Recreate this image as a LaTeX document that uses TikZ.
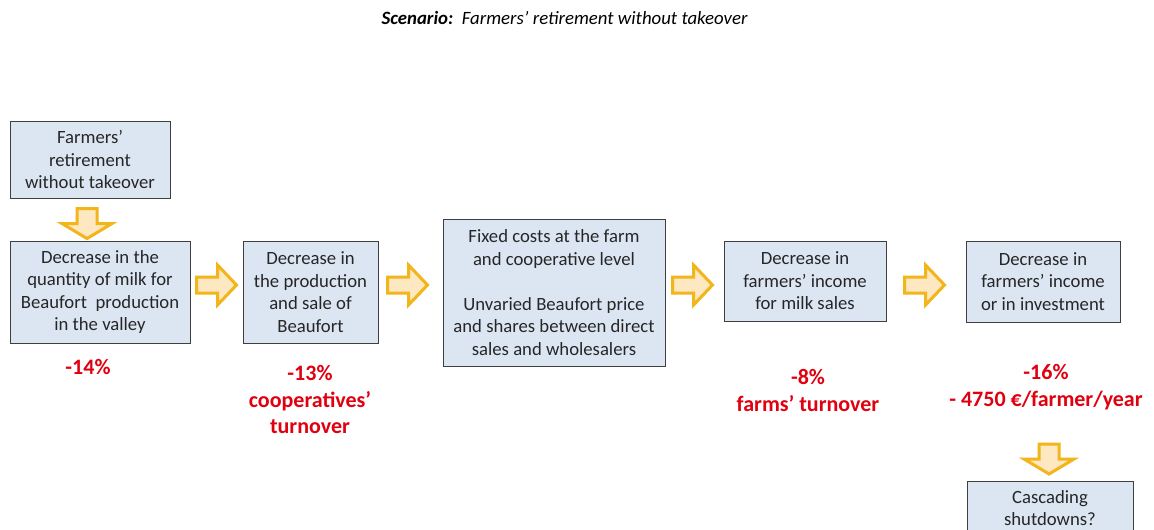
\documentclass[tikz,border=0pt]{standalone}
\usepackage{fontspec}
\setmainfont{Carlito}
\usetikzlibrary{calc}
\definecolor{boxfill}{HTML}{DCE6F2}
\definecolor{boxline}{HTML}{3F3F3F}
\definecolor{arrline}{HTML}{F2B51A}
\definecolor{arrfill}{HTML}{FDE8C2}
\definecolor{redtxt}{HTML}{E0000F}
\definecolor{boxtext}{HTML}{262626}
\begin{document}
\begin{tikzpicture}[x=1pt,y=-1pt,
  box/.style={draw=boxline,fill=boxfill,line width=1pt,align=center,inner sep=0pt,
    font=\fontsize{18.7}{22.5}\selectfont,text=boxtext},
  redlbl/.style={text=redtxt,font=\bfseries\fontsize{22}{26.5}\selectfont,align=center,inner sep=0pt},
  blockarr/.style={draw=arrline,line width=3pt,fill=arrfill,line join=miter},
  rarrow/.pic={\draw[blockarr] (-20,-8) -- (1,-8) -- (1,-20) -- (20,0) -- (1,20) -- (1,8) -- (-20,8) -- cycle;},
  darrow/.pic={\draw[blockarr] (-10,-15) -- (10,-15) -- (10,0) -- (25,0) -- (0,15) -- (-25,0) -- (-10,0) -- cycle;}
]
\useasboundingbox[fill=white] (0,0) rectangle (1154,530);

\node[font=\fontsize{18.8}{22}\selectfont\itshape,text=black] (title) at (564.5,18)
  {\textbf{Scenario:}\ \ Farmers’ retirement without takeover};

\node[box,minimum width=160pt,minimum height=77pt] (b1) at (90,159.5)
  {Farmers’\\retirement\\without takeover};
\node[box,minimum width=180pt,minimum height=102pt] (b2) at (100,292)
  {Decrease in the\\quantity of milk for\\Beaufort\ \ production\\in the valley};
\node[box,minimum width=135pt,minimum height=102pt] (b3) at (310.5,292)
  {Decrease in\\the production\\and sale of\\Beaufort};
\node[box,minimum width=222pt,minimum height=147pt] (b4) at (554,292.5)
  {Fixed costs at the farm\\and cooperative level\\[22.5pt]Unvaried Beaufort price\\and shares between direct\\sales and wholesalers};
\node[box,minimum width=162pt,minimum height=80pt] (b5) at (805,281)
  {Decrease in\\farmers’ income\\for milk sales};
\node[box,minimum width=154pt,minimum height=81pt] (b6) at (1043,281.5)
  {Decrease in\\farmers’ income\\or in investment};
\node[box,minimum width=166pt,minimum height=54pt] (b7) at (1050,508)
  {Cascading\\shutdowns?};

\coordinate (arow) at (0,285);
\coordinate (m1) at ($(b2.east)!0.5!(b3.west)$);
\coordinate (m2) at ($(b3.east)!0.5!(b4.west)+(-3,0)$);
\coordinate (m3) at ($(b4.east)!0.5!(b5.west)+(-2,0)$);
\coordinate (m4) at ($(b5.east)!0.5!(b6.west)+(-1.5,0)$);
\pic at (m1 |- arow) {rarrow};
\pic at (m2 |- arow) {rarrow};
\pic at (m3 |- arow) {rarrow};
\pic at (m4 |- arow) {rarrow};
\pic at ($(b1.south)+(-3,25)$) {darrow};
\pic at ($(b7.north)+(-1,-21.5)$) {darrow};

\node[redlbl,anchor=base] (l1) at (88,374) {-14\%};
\node[redlbl,anchor=north] (l2) at (310,365.5) {-13\%\\cooperatives’\\turnover};
\node[redlbl,anchor=north] (l3) at (808,369.5) {-8\%\\farms’ turnover};
\node[redlbl,anchor=north] (l4) at (1046,364.5) {-16\%\\- 4750 €/farmer/year};
\end{tikzpicture}
\end{document}
